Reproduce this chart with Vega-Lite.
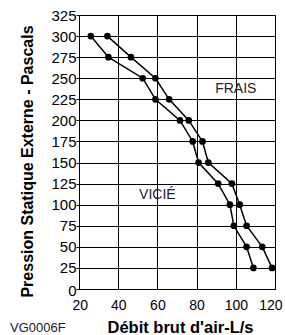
{
  "$schema": "https://vega.github.io/schema/vega-lite/v6.json",
  "autosize": {"type": "none"},
  "width": 196,
  "height": 274,
  "padding": {"left": 79, "top": 15, "right": 10, "bottom": 46},
  "background": "white",
  "config": {
    "font": "Liberation Sans",
    "view": {"stroke": "black", "strokeWidth": 1},
    "axis": {
      "grid": true,
      "gridColor": "black",
      "gridOpacity": 1,
      "gridWidth": 1,
      "domainColor": "black",
      "tickColor": "black",
      "labelColor": "black",
      "labelFont": "Liberation Sans",
      "labelFontSize": 14,
      "labelOverlap": false,
      "titleFont": "Liberation Sans",
      "titleFontSize": 16,
      "titleFontWeight": "bold",
      "titleColor": "black"
    }
  },
  "title": {
    "text": "VG0006F",
    "orient": "bottom",
    "anchor": "start",
    "frame": "group",
    "dx": -69,
    "offset": -14,
    "fontSize": 13,
    "fontWeight": "normal",
    "font": "Liberation Sans",
    "color": "#222222"
  },
  "datasets": {
    "curves": [
      {"serie": "Vicié", "debit": 26, "pression": 300},
      {"serie": "Vicié", "debit": 35, "pression": 275},
      {"serie": "Vicié", "debit": 52.5, "pression": 250},
      {"serie": "Vicié", "debit": 59, "pression": 225},
      {"serie": "Vicié", "debit": 71.5, "pression": 200},
      {"serie": "Vicié", "debit": 78, "pression": 175},
      {"serie": "Vicié", "debit": 81, "pression": 150},
      {"serie": "Vicié", "debit": 91, "pression": 125},
      {"serie": "Vicié", "debit": 97, "pression": 100},
      {"serie": "Vicié", "debit": 99, "pression": 75},
      {"serie": "Vicié", "debit": 105.5, "pression": 50},
      {"serie": "Vicié", "debit": 109, "pression": 25},
      {"serie": "Frais", "debit": 34.5, "pression": 300},
      {"serie": "Frais", "debit": 46.5, "pression": 275},
      {"serie": "Frais", "debit": 59, "pression": 250},
      {"serie": "Frais", "debit": 66, "pression": 225},
      {"serie": "Frais", "debit": 76, "pression": 200},
      {"serie": "Frais", "debit": 83, "pression": 175},
      {"serie": "Frais", "debit": 86, "pression": 150},
      {"serie": "Frais", "debit": 98, "pression": 125},
      {"serie": "Frais", "debit": 102, "pression": 100},
      {"serie": "Frais", "debit": 105.5, "pression": 75},
      {"serie": "Frais", "debit": 113.5, "pression": 50},
      {"serie": "Frais", "debit": 118.5, "pression": 25}
    ],
    "labels": [
      {"texte": "FRAIS", "debit": 100, "pression": 237},
      {"texte": "VICIÉ", "debit": 60, "pression": 111}
    ]
  },
  "encoding": {
    "x": {
      "field": "debit",
      "type": "quantitative",
      "scale": {"domain": [20, 120], "nice": false, "zero": false},
      "axis": {
        "values": [20, 40, 60, 80, 100, 120],
        "title": "Débit brut d'air-L/s",
        "tickSize": 0,
        "labelPadding": 9,
        "labelFlush": true,
        "labelFlushOffset": 7,
        "titleFontSize": 16.5,
        "titleX": 101,
        "titleY": 43,
        "titleBaseline": "alphabetic"
      }
    },
    "y": {
      "field": "pression",
      "type": "quantitative",
      "scale": {"domain": [0, 325], "nice": false, "zero": true},
      "axis": {
        "values": [0, 25, 50, 75, 100, 125, 150, 175, 200, 225, 250, 275, 300, 325],
        "title": "Pression Statique Externe - Pascals",
        "tickSize": 3,
        "labelPadding": 0,
        "labelFontSize": 15,
        "labelFlush": false,
        "labelBaseline": "middle",
        "labelOffset": {"condition": {"test": "datum.value == 0", "value": 1}, "value": 0},
        "titleX": -52,
        "titleY": 146,
        "titleBaseline": "middle",
        "titleAngle": -90
      }
    }
  },
  "layer": [
    {
      "data": {"name": "curves"},
      "mark": {"type": "line", "color": "black", "strokeWidth": 1.5},
      "encoding": {
        "detail": {"field": "serie"},
        "order": {"field": "pression", "sort": "descending"}
      }
    },
    {
      "data": {"name": "curves"},
      "mark": {"type": "circle", "color": "black", "opacity": 1, "size": 45}
    },
    {
      "data": {"name": "labels"},
      "mark": {"type": "text", "font": "Liberation Sans", "fontSize": 14, "color": "#222222", "align": "center", "baseline": "middle"},
      "encoding": {"text": {"field": "texte"}}
    }
  ]
}
